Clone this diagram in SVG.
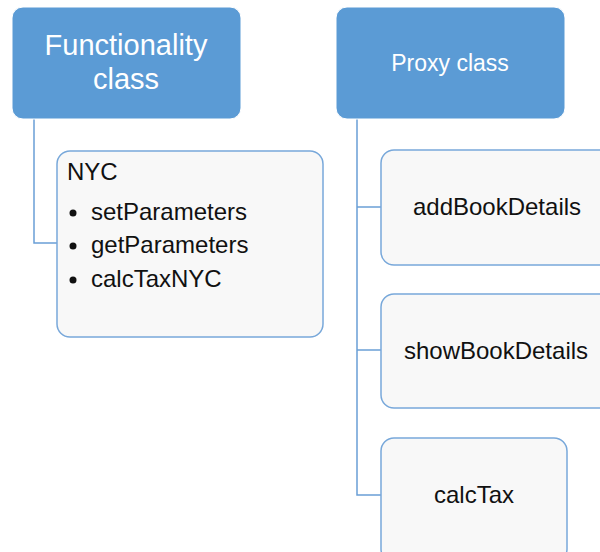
<svg xmlns="http://www.w3.org/2000/svg" width="600" height="552" viewBox="0 0 600 552">
<style>
.hdr{fill:#5B9BD5;stroke:#ffffff;stroke-width:1}
.box{fill:#F8F8F8;stroke:#78A8DA;stroke-width:1.5}
.ht{font-family:"Liberation Sans",Arial,sans-serif;fill:#ffffff;text-anchor:middle}
.bt{font-family:"Liberation Sans",Arial,sans-serif;fill:#111111;font-size:24px}
.ct{text-anchor:middle}
.conn{fill:none;stroke:#6A9FD6;stroke-width:1.5}
</style>
<rect width="600" height="552" fill="#ffffff"/>
<g id="connectors">
<path class="conn" d="M34 119 V243 H57"/>
<path class="conn" d="M357 119 V495 H381"/>
<path class="conn" d="M357 207 H381"/>
<path class="conn" d="M357 350 H381"/>
</g>
<g id="functionality">
<rect class="hdr" x="12" y="7" width="229" height="112" rx="11"/>
<text class="ht" x="126" y="55" font-size="29">Functionality</text>
<text class="ht" x="126" y="89" font-size="29">class</text>
</g>
<g id="proxy">
<rect class="hdr" x="336" y="7" width="229" height="112" rx="11"/>
<text class="ht" x="450" y="71" font-size="23">Proxy class</text>
</g>
<g id="nyc">
<rect class="box" x="57" y="151" width="266" height="186" rx="13"/>
<text class="bt" x="67" y="180">NYC</text>
<circle cx="73" cy="213" r="3.5" fill="#111"/>
<circle cx="73" cy="246" r="3.5" fill="#111"/>
<circle cx="73" cy="280" r="3.5" fill="#111"/>
<text class="bt" x="91" y="220">setParameters</text>
<text class="bt" x="91" y="253">getParameters</text>
<text class="bt" x="91" y="287">calcTaxNYC</text>
</g>
<g id="addBookDetails">
<rect class="box" x="381" y="150" width="232" height="115" rx="13"/>
<text class="bt ct" x="497" y="215">addBookDetails</text>
</g>
<g id="showBookDetails">
<rect class="box" x="381" y="294" width="232" height="114" rx="13"/>
<text class="bt ct" x="496" y="359">showBookDetails</text>
</g>
<g id="calcTax">
<rect class="box" x="381" y="438" width="186" height="124" rx="13"/>
<text class="bt ct" x="474" y="503">calcTax</text>
</g>
</svg>
